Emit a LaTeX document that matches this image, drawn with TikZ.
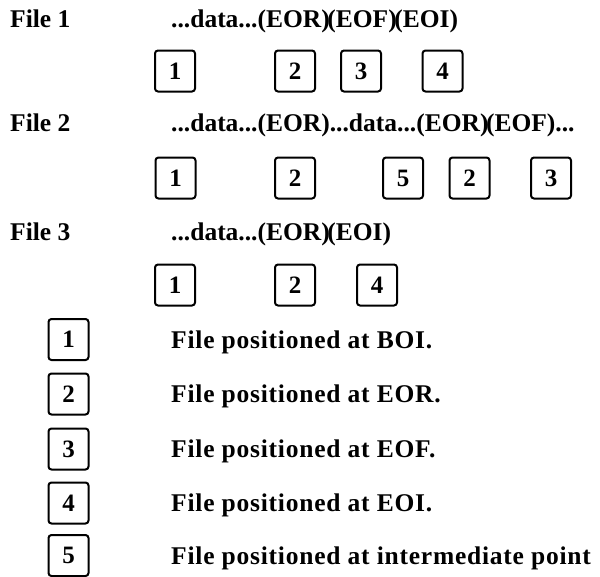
\documentclass[tikz,border=0pt]{standalone}
\usepackage{fontspec}
\setmainfont{Liberation Serif}
\newfontfamily\legfont{Liberation Serif}[LetterSpace=3]
\newcommand{\pc}{\kern-2.5pt}
\begin{document}
\begin{tikzpicture}[x=1pt,y=-1pt]
\tikzset{
 numbox/.style={draw, line width=2pt, rounded corners=3pt, minimum width=40pt, minimum height=41pt, inner sep=0pt, font=\bfseries\fontsize{25}{30}\selectfont},
 rowtext/.style={anchor=base west, inner sep=0pt, font=\bfseries\fontsize{25.5}{30}\selectfont},
 legtext/.style={anchor=base west, inner sep=0pt, font=\legfont\bfseries\fontsize{25.5}{30}\selectfont}
}
\useasboundingbox[fill=white] (0,0) rectangle (600,576);

% File 1
\node[rowtext] (f1) at (10,27) {File 1};
\node[rowtext] (d1) at (171,27) {...data...(EOR)\pc(EOF)\pc(EOI)};
\node[numbox] (r1a) at (175,71) {1};
\node[numbox] (r1b) at (295,71) {2};
\node[numbox] (r1c) at (361,71) {3};
\node[numbox] (r1d) at (442.5,71) {4};

% File 2
\node[rowtext] (f2) at (10,131) {File 2};
\node[rowtext] (d2) at (171,131) {...data...(EOR)...data...(EOR)\pc(EOF)...};
\node[numbox] (r2a) at (175.5,178) {1};
\node[numbox] (r2b) at (295,178) {2};
\node[numbox] (r2c) at (403,178) {5};
\node[numbox] (r2d) at (469.5,178) {2};
\node[numbox] (r2e) at (551,178) {3};

% File 3
\node[rowtext] (f3) at (10,240) {File 3};
\node[rowtext] (d3) at (171,240) {...data...(EOR)\pc(EOI)};
\node[numbox] (r3a) at (175,285) {1};
\node[numbox] (r3b) at (295,285) {2};
\node[numbox] (r3c) at (377,285) {4};

% Legend
\node[numbox] (l1) at (68.5,339.5) {1};
\node[numbox] (l2) at (68.5,394) {2};
\node[numbox] (l3) at (68.5,449) {3};
\node[numbox] (l4) at (68.5,503) {4};
\node[numbox] (l5) at (68.5,555.5) {5};
\node[legtext] (t1) at (171,348) {File positioned at BOI.};
\node[legtext] (t2) at (171,402.5) {File positioned at EOR.};
\node[legtext] (t3) at (171,457.5) {File positioned at EOF.};
\node[legtext] (t4) at (171,511.5) {File positioned at EOI.};
\node[legtext] (t5) at (171,564) {File positioned at intermediate point};
\end{tikzpicture}
\end{document}
